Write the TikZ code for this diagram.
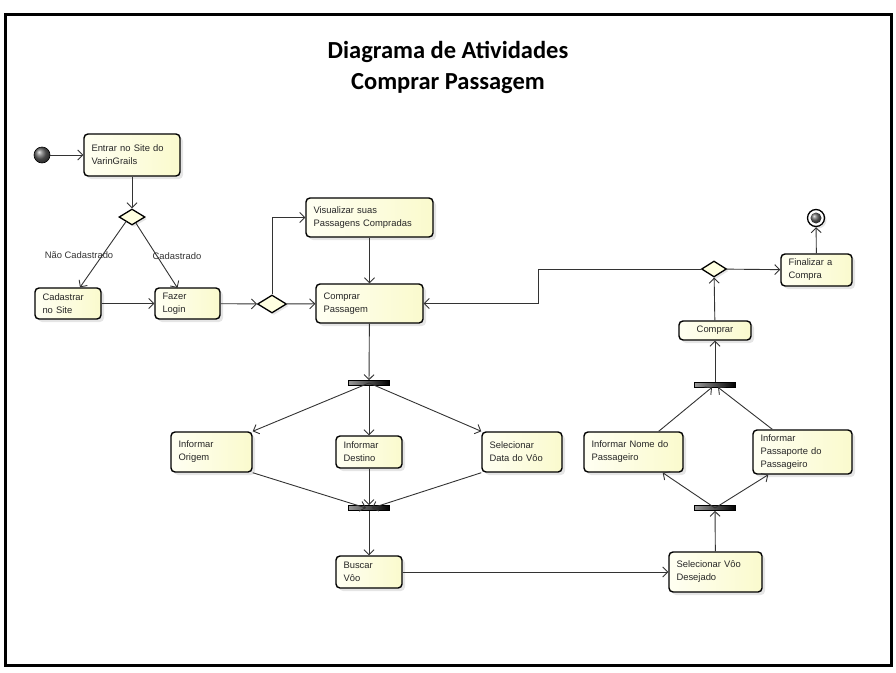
\documentclass[tikz,border=0pt]{standalone}
\usepackage{fontspec}
\setmainfont{Liberation Sans}
\newfontfamily\titlefont{Carlito}
\usetikzlibrary{arrows.meta,shapes.geometric,shadows}
\definecolor{actL}{RGB}{255,255,242}
\definecolor{actR}{RGB}{250,250,205}
\definecolor{decfill}{RGB}{255,255,225}
\tikzset{
  act/.style={draw=black, line width=1.4pt, rounded corners=4pt,
    left color=actL, right color=actR,
    drop shadow={shadow xshift=3pt, shadow yshift=-3pt, fill=black!20},
    inner xsep=7.5pt, inner ysep=2pt, align=left,
    font=\fontsize{9.4}{13}\selectfont, text=black!85},
  bar/.style={draw=black, line width=0.6pt, minimum width=41pt, minimum height=5pt,
    inner sep=0pt, left color=gray!80, middle color=white, right color=black},
  dec/.style={diamond, draw=black, line width=1.3pt, fill=decfill, inner sep=0pt,
    drop shadow={shadow xshift=2pt, shadow yshift=-2pt, fill=black!20}},
  flow/.style={draw=black!80, line width=0.9pt, -{Straight Barb[length=5pt,width=10pt]}},
  lbl/.style={font=\fontsize{9.4}{13}\selectfont, text=black!80, inner sep=0pt},
  frame/.style={draw=black, line width=3pt}
}
\begin{document}
\begin{tikzpicture}[x=1pt,y=-1pt]
\useasboundingbox (0,0) rectangle (896,672);
\draw[frame] (5,14) rectangle (891,665);

\node[font=\titlefont\bfseries\fontsize{24.5}{31}\selectfont, align=center] (title) at (448,67) {Diagrama de Atividades\\Comprar Passagem};

% initial and final
\node[circle, draw=black, line width=0.6pt, shading=ball, ball color=black!60, minimum size=16pt, inner sep=0pt] (start) at (42,155) {};
\node[circle, draw=black, line width=1.3pt, fill=white, minimum size=17pt, inner sep=0pt,
  drop shadow={shadow xshift=2pt, shadow yshift=-2pt, fill=black!20}] (endo) at (816,218) {};
\node[circle, shading=ball, ball color=black!60, minimum size=11pt, inner sep=0pt] (endi) at (816,218) {};

% activities
\node[act, text width=81pt, minimum height=42pt] (entrar) at (132,155) {Entrar no Site do\\VarinGrails};
\node[act, text width=51pt, minimum height=31pt] (cadastrar) at (68,303.5) {Cadastrar\\no Site};
\node[act, text width=50pt, minimum height=31pt] (fazer) at (187.5,303.5) {Fazer\\Login};
\node[act, text width=112pt, minimum height=39pt] (visualizar) at (369.5,217.5) {Visualizar suas\\Passagens Compradas};
\node[act, text width=92pt, minimum height=39pt] (comprarp) at (369.5,303.5) {Comprar\\Passagem};
\node[act, text width=56pt, minimum height=32pt] (finalizar) at (816.5,270) {Finalizar a\\Compra};
\node[act, text width=57pt, minimum height=19pt, align=center] (comprar) at (715,330.5) {Comprar};
\node[act, text width=66pt, minimum height=40pt] (origem) at (211.5,452) {Informar\\Origem};
\node[act, text width=51pt, minimum height=32pt] (destino) at (369,452) {Informar\\Destino};
\node[act, text width=65pt, minimum height=40pt] (data) at (522,452) {Selecionar\\Data do Vôo};
\node[act, text width=51pt, minimum height=32pt] (buscar) at (369,572) {Buscar\\Vôo};
\node[act, text width=84pt, minimum height=40pt] (nome) at (633.5,452) {Informar Nome do\\Passageiro};
\node[act, text width=84pt, minimum height=44pt] (passaporte) at (802.5,452) {Informar\\Passaporte do\\Passageiro};
\node[act, text width=78pt, minimum height=40pt] (selvoo) at (715.5,572) {Selecionar Vôo\\Desejado};

% decisions
\node[dec, minimum width=26pt, minimum height=16pt] (d1) at (132,217) {};
\node[dec, minimum width=29pt, minimum height=18pt] (d2) at (272,304) {};
\node[dec, minimum width=25pt, minimum height=16pt] (d3) at (714,269) {};

% bars
\node[bar] (f1) at (369,383) {};
\node[bar] (j2) at (369,508) {};
\node[bar] (f3) at (715,384.5) {};
\node[bar] (f4) at (715,508) {};

% labels
\node[lbl] (lnc) at (79,255) {Não Cadastrado};
\node[lbl] (lc) at (177,256) {Cadastrado};

\coordinate (r1) at (538,269);
\coordinate (r2) at (538,303.5);

% flows
\draw[flow] (start) -- (entrar);
\draw[flow] (entrar) -- (d1);
\draw[flow] (d1.south west) ++(1,-0) -- (cadastrar.north -| 80,0);
\draw[flow] (d1) -- (177.5,288);
\draw[flow] (cadastrar) -- (fazer);
\draw[flow] (fazer) -- (d2);
\draw[flow] (d2) -- (comprarp);
\draw[flow] (d2.north) |- (visualizar.west);
\draw[flow] (visualizar) -- (comprarp);
\draw[flow] (comprarp) -- (f1);
\draw[flow] (f1.center) -- (origem.north east);
\draw[flow] (f1) -- (destino);
\draw[flow] (f1.center) -- (data.north west);
\draw[flow] (origem.south east) -- ([xshift=-3pt]j2.center);
\draw[flow] (destino) -- (j2);
\draw[flow] (data.south west) -- ([xshift=3pt]j2.center);
\draw[flow] (j2) -- (buscar);
\draw[flow] (buscar) -- (selvoo);
\draw[flow] (selvoo) -- (f4);
\draw[flow] (f4.center) -- ([xshift=-21pt]nome.south east);
\draw[flow] (f4.center) -- ([xshift=16pt]passaporte.south west);
\draw[flow] ([xshift=-25pt]nome.north east) -- ([xshift=-3pt]f3.south);
\draw[flow] ([xshift=20pt]passaporte.north west) -- ([xshift=3pt]f3.south);
\draw[flow] (f3) -- (comprar);
\draw[flow] (comprar) -- (d3);
\draw[flow] (d3) -- (finalizar);
\draw[flow] (finalizar) -- (endo);
\draw[flow] (d3.west) -- (r1) -- (r2) -- (comprarp.east);
\end{tikzpicture}
\end{document}
